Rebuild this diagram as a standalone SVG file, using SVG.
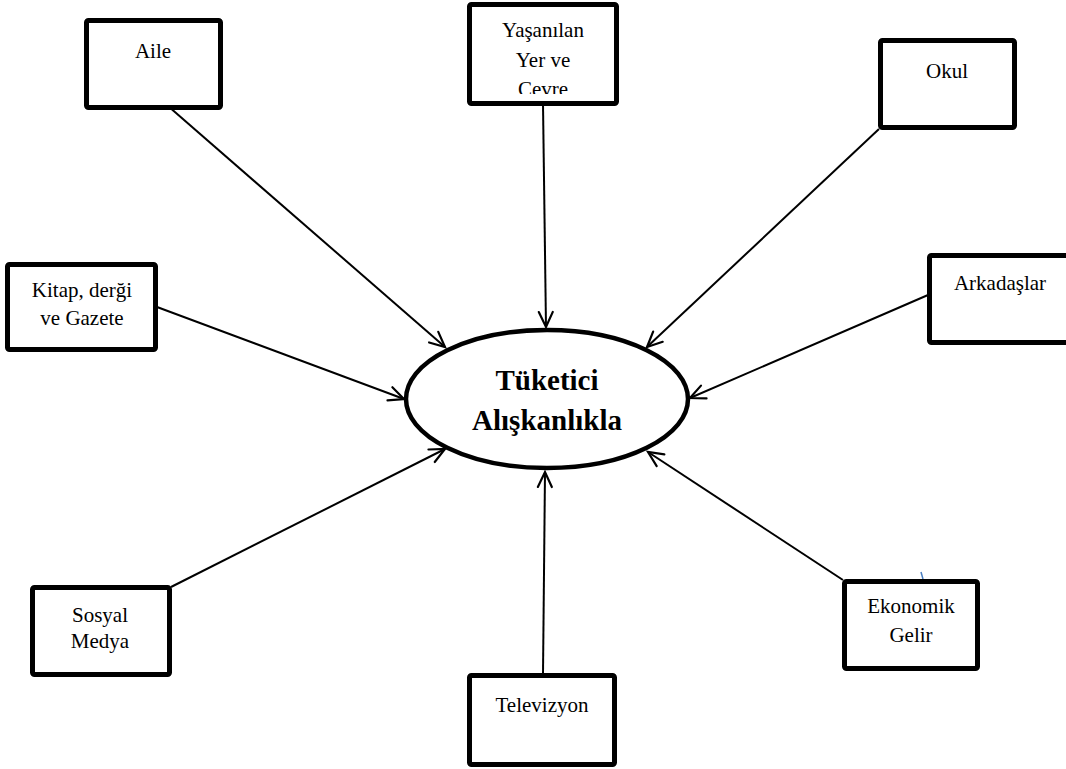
<svg xmlns="http://www.w3.org/2000/svg" width="1066" height="769" viewBox="0 0 1066 769">
<style>
.box{fill:#fff;stroke:#000;stroke-width:5;stroke-linejoin:round}
.lbl{font-family:"Liberation Serif","Times New Roman",serif;font-size:21px;fill:#000;text-anchor:middle}
.title{font-family:"Liberation Serif","Times New Roman",serif;font-size:29px;font-weight:bold;fill:#000;text-anchor:middle}
.conn{stroke:#000;stroke-width:2;fill:none;marker-end:url(#arr)}
</style>
<defs>
<marker id="arr" markerUnits="userSpaceOnUse" viewBox="-18 -9 20 18" refX="0" refY="0" markerWidth="20" markerHeight="18" orient="auto" overflow="visible">
<path d="M-15,-7 L0,0 L-15,7" fill="none" stroke="#000" stroke-width="2.2" stroke-linecap="round"/>
</marker>
<clipPath id="clipY"><rect x="472" y="7" width="142" height="87"/></clipPath>
</defs>
<rect width="1066" height="769" fill="#fff"/>
<g id="connectors">
<line class="conn" x1="168" y1="106" x2="445" y2="347"/>
<line class="conn" x1="543" y1="104" x2="546" y2="327"/>
<line class="conn" x1="879" y1="129" x2="647" y2="347"/>
<line class="conn" x1="157" y1="307" x2="404" y2="399"/>
<line class="conn" x1="928" y1="295" x2="690" y2="398"/>
<line class="conn" x1="171" y1="587" x2="445" y2="449"/>
<line class="conn" x1="543" y1="674" x2="545" y2="472"/>
<line class="conn" x1="843" y1="580" x2="648" y2="452"/>
<line x1="921" y1="572" x2="923" y2="579" stroke="#4a7fc1" stroke-width="1.5"/>
</g>
<g id="center">
<ellipse cx="547" cy="399" rx="141" ry="69" fill="#fff" stroke="#000" stroke-width="4.5"/>
<text class="title" x="547" y="390">Tüketici</text>
<text class="title" x="547" y="430">Alışkanlıkla</text>
</g>
<g id="aile">
<rect class="box" x="86.5" y="20.5" width="134" height="87" rx="2"/>
<text class="lbl" x="153" y="58">Aile</text>
</g>
<g id="yasanilan">
<rect class="box" x="469.5" y="4.5" width="147" height="99" rx="2"/>
<g clip-path="url(#clipY)">
<text class="lbl" x="543" y="37">Yaşanılan</text>
<text class="lbl" x="543" y="67">Yer ve</text>
<text class="lbl" x="543" y="96">Çevre</text>
</g>
</g>
<g id="okul">
<rect class="box" x="880.5" y="40.5" width="134" height="87" rx="2"/>
<text class="lbl" x="947" y="78">Okul</text>
</g>
<g id="kitap">
<rect class="box" x="7.5" y="264.5" width="148" height="85" rx="2"/>
<text class="lbl" x="82" y="297">Kitap, derği</text>
<text class="lbl" x="82" y="325">ve Gazete</text>
</g>
<g id="arkadaslar">
<rect class="box" x="929.5" y="255.5" width="145" height="87" rx="2"/>
<text class="lbl" x="1000" y="290">Arkadaşlar</text>
</g>
<g id="sosyal">
<rect class="box" x="32.5" y="587.5" width="137" height="87" rx="2"/>
<text class="lbl" x="100" y="622">Sosyal</text>
<text class="lbl" x="100" y="648">Medya</text>
</g>
<g id="televizyon">
<rect class="box" x="469.5" y="675.5" width="145" height="89" rx="2"/>
<text class="lbl" x="542" y="712">Televizyon</text>
</g>
<g id="ekonomik">
<rect class="box" x="844.5" y="581.5" width="133" height="87" rx="2"/>
<text class="lbl" x="911" y="613">Ekonomik</text>
<text class="lbl" x="911" y="642">Gelir</text>
</g>
</svg>
